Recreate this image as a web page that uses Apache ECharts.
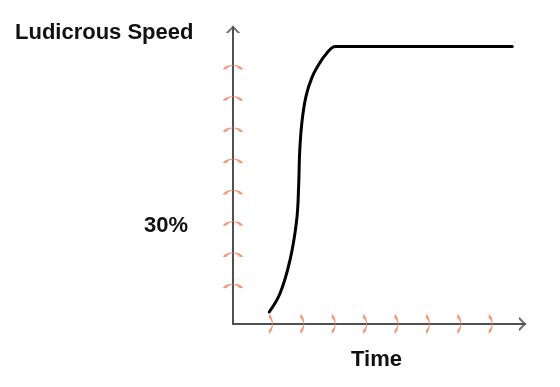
<!DOCTYPE html>
<html>
<head>
<meta charset="utf-8">
<script src="https://cdn.jsdelivr.net/npm/echarts@6/dist/echarts.min.js"></script>
<style>html,body{margin:0;padding:0;background:#fff}#c{width:560px;height:387px}</style>
</head>
<body>
<div id="c"></div>
<script>
// Data
const timeTicks = [0, 1, 2, 3, 4, 5, 6, 7];
const speedTicks = [0, 1, 2, 3, 4, 5, 6, 7];
const curveTime  = [-0.045, 0.296, 0.615, 0.828, 0.892, 0.924, 0.997, 1.124, 1.306, 1.506, 1.761, 2.070, 7.694];
const curveSpeed = [-0.825, -0.236, 0.832, 2.114, 3.236, 4.303, 5.264, 6.072, 6.655, 7.050, 7.418, 7.668, 7.668];
const yTitle = 'Ludicrous Speed';
const yMark = '30%';
const xTitle = 'Time';

const X_MIN = -1.2, X_MAX = 8.1, Y_MIN = -1.21, Y_MAX = 8.29;
const AXIS = '#505050', TICK = '#f47c58';
const FONT = '"Liberation Sans", Arial, sans-serif';

const chart = echarts.init(document.getElementById('c'), null, {renderer: 'canvas'});
const curve = curveTime.map((t, i) => [t, curveSpeed[i]]);

chart.setOption({
  animation: false,
  grid: {left: 233, top: 27, width: 292, height: 297, containLabel: false},
  xAxis: {
    type: 'value', min: X_MIN, max: X_MAX,
    axisLine: {show: true, onZero: false, lineStyle: {color: AXIS, width: 2}},
    axisTick: {show: false}, axisLabel: {show: false}, splitLine: {show: false}
  },
  yAxis: {
    type: 'value', min: Y_MIN, max: Y_MAX,
    axisLine: {show: true, onZero: false, lineStyle: {color: AXIS, width: 2}},
    axisTick: {show: false}, axisLabel: {show: false}, splitLine: {show: false}
  },
  series: [
    {
      type: 'scatter', clip: false, silent: true,
      data: speedTicks.map(v => [X_MIN, v]),
      symbol: 'path://M0,5 C3,0.5 13,0.5 16,5', symbolSize: [17, 4],
      itemStyle: {color: 'transparent', borderColor: TICK, borderWidth: 1.8}
    },
    {
      type: 'scatter', clip: false, silent: true,
      data: timeTicks.map(v => [v, Y_MIN]),
      symbol: 'path://M0,0 C4,3 4,13 0,16', symbolSize: [3.5, 16],
      itemStyle: {color: 'transparent', borderColor: TICK, borderWidth: 1.8}
    },
    {
      type: 'scatter', clip: false, silent: true,
      data: [[X_MIN, Y_MAX]],
      symbol: 'path://M0,6 L6,0 L12,6', symbolSize: [12, 6], symbolOffset: [0, 3],
      itemStyle: {color: 'transparent', borderColor: AXIS, borderWidth: 1.8}
    },
    {
      type: 'scatter', clip: false, silent: true,
      data: [[X_MAX, Y_MIN]],
      symbol: 'path://M0,0 L6,6 L0,12', symbolSize: [6, 12], symbolOffset: [-3, 0],
      itemStyle: {color: 'transparent', borderColor: AXIS, borderWidth: 1.8}
    },
    {
      type: 'line', data: curve, smooth: 0.4, showSymbol: false, silent: true, z: 5,
      lineStyle: {color: '#000', width: 3, cap: 'round', join: 'round'}
    }
  ],
  graphic: [
    {type: 'text', left: 15, top: 22, style: {text: yTitle, font: 'bold 22px ' + FONT, fill: '#111'}},
    {type: 'text', right: 372, top: 215, style: {text: yMark, font: 'bold 22px ' + FONT, fill: '#111'}},
    {type: 'text', left: 351, top: 349, style: {text: xTitle, font: 'bold 22px ' + FONT, fill: '#111'}}
  ]
});
</script>
</body>
</html>
